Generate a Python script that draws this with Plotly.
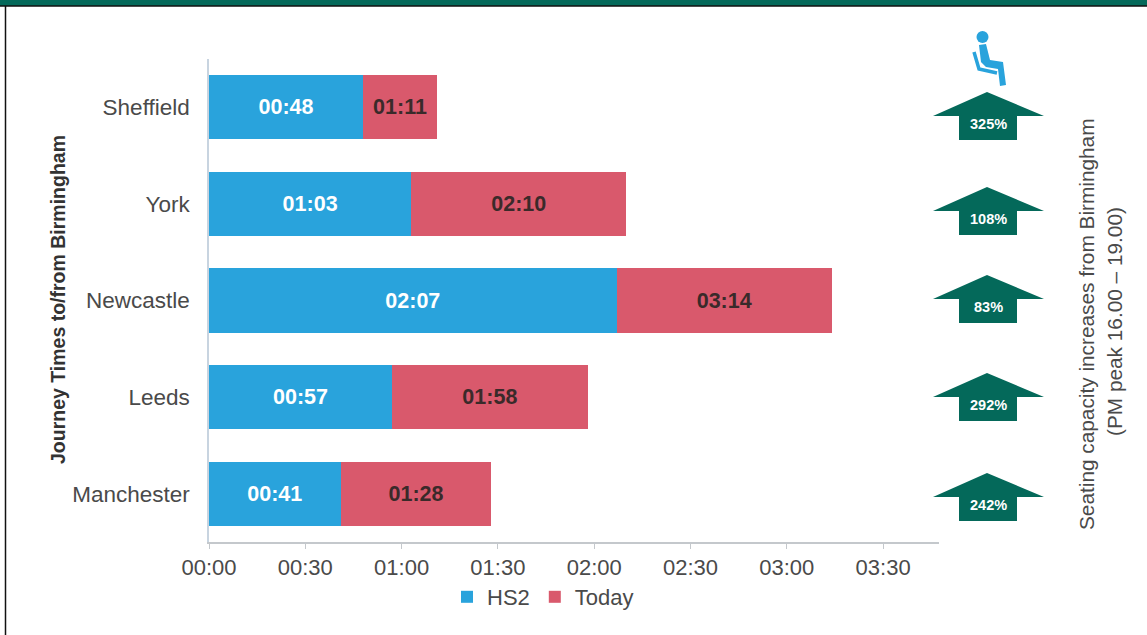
import plotly.graph_objects as go

cities = ["Sheffield", "York", "Newcastle", "Leeds", "Manchester"]
hs2_minutes = [48, 63, 127, 57, 41]
today_minutes = [71, 130, 194, 118, 88]
hs2_labels = ["00:48", "01:03", "02:07", "00:57", "00:41"]
today_labels = ["01:11", "02:10", "03:14", "01:58", "01:28"]
tick_minutes = [0, 30, 60, 90, 120, 150, 180, 210]
tick_labels = ["00:00", "00:30", "01:00", "01:30", "02:00", "02:30", "03:00", "03:30"]
seat_increase = ["325%", "108%", "83%", "292%", "242%"]
arrow_tops = [92, 187, 275, 373, 473]

W, H = 1147, 635
L, R, T, B = 209, 939, 59, 542
FONT = "Liberation Sans"
BLUE, RED, GREEN, GREY = "#29a3dc", "#d9596c", "#04695a", "#4a4a4a"


def px(x):
    return (x - L) / (R - L)


def py(y):
    return (B - y) / (B - T)


def poly(points):
    return "M" + " L".join(f"{px(x):.5f},{py(y):.5f}" for x, y in points) + " Z"


def line(points):
    return "M" + " L".join(f"{px(x):.5f},{py(y):.5f}" for x, y in points)


fig = go.Figure()
fig.add_bar(
    name="HS2", y=cities, x=hs2_minutes, orientation="h", marker=dict(color=BLUE, line_width=0),
    text=hs2_labels, textposition="inside", insidetextanchor="middle", constraintext="none",
    textangle=0, textfont=dict(family=FONT, size=21.5, color="white", weight="bold"),
)
fig.add_bar(
    name="Today", y=cities, x=[t - h for t, h in zip(today_minutes, hs2_minutes)], orientation="h",
    marker=dict(color=RED, line_width=0),
    text=today_labels, textposition="inside", insidetextanchor="middle", constraintext="none",
    textangle=0, textfont=dict(family=FONT, size=21.5, color="#3a2a2a", weight="bold"),
)

shapes = []
annotations = []
common = dict(xref="paper", yref="paper", xanchor="center", yanchor="middle")
shape_ref = dict(xref="paper", yref="paper")

# Top band and page border
shapes.append(dict(type="rect", **shape_ref, x0=px(0), x1=px(W), y0=py(0), y1=py(6),
                   fillcolor=GREEN, line_width=0, layer="below"))
shapes.append(dict(type="line", **shape_ref, x0=px(0), x1=px(W), y0=py(6), y1=py(6),
                   line=dict(color="#111", width=1.5)))
shapes.append(dict(type="line", **shape_ref, x0=px(5.5), x1=px(5.5), y0=py(6), y1=py(H),
                   line=dict(color="#111", width=1.5)))

# Arrows with their capacity labels
for top, pct in zip(arrow_tops, seat_increase):
    shapes.append(dict(type="path", **shape_ref, fillcolor=GREEN, line_width=0, path=poly([
        (987, top), (1044, top + 24), (1017, top + 24), (1017, top + 48),
        (959, top + 48), (959, top + 24), (933, top + 24)])))
    annotations.append(dict(**common, x=px(988), y=py(top + 32), text=f"<b>{pct}</b>", showarrow=False,
                            font=dict(family=FONT, size=14.5, color="white")))

# Seated passenger icon
shapes.append(dict(type="circle", **shape_ref, x0=px(976.5), x1=px(988.5), y0=py(31), y1=py(43),
                   fillcolor=BLUE, line_width=0))
shapes.append(dict(type="path", **shape_ref, fillcolor=BLUE, line_width=0,
                   path=poly([(979, 45), (986, 44), (990, 60), (1003, 62), (1006, 85), (1000, 86),
                              (998, 69), (986, 67), (981, 62)])))
shapes.append(dict(type="path", **shape_ref, fillcolor="rgba(0,0,0,0)", line=dict(color=BLUE, width=3.5),
                   path=line([(974, 52), (979, 69), (997, 73)])))

# Axis titles
annotations.append(dict(**common, x=px(58), y=py(300), text="<b>Journey Times to/from Birmingham</b>",
                        textangle=-90, showarrow=False, font=dict(family=FONT, size=19.5, color="#333")))
annotations.append(dict(**common, x=px(1086), y=py(324), text="Seating capacity increases from Birmingham",
                        textangle=-90, showarrow=False, font=dict(family=FONT, size=20.8, color=GREY)))
annotations.append(dict(**common, x=px(1114), y=py(322), text="(PM peak 16.00 – 19.00)",
                        textangle=-90, showarrow=False, font=dict(family=FONT, size=20.8, color=GREY)))

fig.update_layout(
    width=W, height=H, autosize=False,
    margin=dict(l=L, r=W - R, t=T, b=H - B, pad=0),
    barmode="stack", bargap=0.335, paper_bgcolor="white", plot_bgcolor="white",
    font=dict(family=FONT, size=22, color=GREY),
    showlegend=True,
    legend=dict(orientation="h", x=px(543), y=py(597), xanchor="center", yanchor="middle",
                traceorder="normal", font=dict(size=22, color=GREY), itemwidth=30,
                bgcolor="rgba(0,0,0,0)"),
    shapes=shapes, annotations=annotations,
    xaxis=dict(range=[0, (R - L) / 3.21], tickvals=tick_minutes, ticktext=tick_labels, showgrid=False,
               zeroline=False, showline=True, linecolor="#c4c8cc", linewidth=1.5, ticks="outside",
               ticklen=5, tickcolor="#c4c8cc", tickfont=dict(size=22, color=GREY)),
    yaxis=dict(categoryorder="array", categoryarray=cities[::-1], showgrid=False, zeroline=False,
               showline=True, linecolor="#c8d4e0", linewidth=1.5, ticks="", ticklabelstandoff=13,
               tickfont=dict(size=22.5, color=GREY)),
)

fig.write_html("out.html", config=dict(displayModeBar=False),
               post_script="document.body.style.margin='0';document.documentElement.style.overflow='hidden';")
